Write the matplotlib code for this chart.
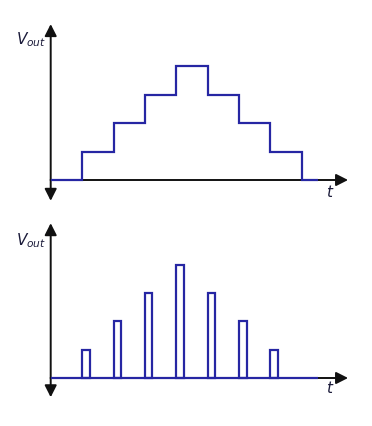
import numpy as np
import matplotlib
matplotlib.use("Agg")
from matplotlib import pyplot as plt

# staircase output (top) and sampled pulses (bottom)
stair_edges = [0, 1, 2, 3, 4, 5, 6, 7, 8, 8.5]
stair_levels = [0, 1, 2, 3, 4, 3, 2, 1, 0]

pulse_times = [1, 2, 3, 4, 5, 6, 7]
pulse_levels = [1, 2, 3, 4, 3, 2, 1]
pulse_width = 0.24

blue = "#2626a3"
axis_col = "#111111"

W, H = 372, 427
fig = plt.figure(figsize=(W / 100, H / 100), dpi=100)

# pixel layout -> data limits, so that t=1 is ~31.4px and one level ~28.4px
x0_px, tx = 50.7, 31.4
xlim = (-x0_px / tx, (W - x0_px) / tx)


def make_ax(top_px, bot_px, base_px, ty):
    ax = fig.add_axes([0, 1 - bot_px / H, 1, (bot_px - top_px) / H])
    ax.set_xlim(*xlim)
    ax.set_ylim((base_px - bot_px) / ty, (base_px - top_px) / ty)
    ax.axis("off")
    return ax


def draw_axes(ax, ytop, ybot, xend, lbl_y, t_y):
    arrow = dict(arrowstyle="-|>,head_length=0.75,head_width=0.38",
                 color=axis_col, lw=1.4, mutation_scale=9.5, shrinkA=0, shrinkB=0)
    ax.annotate("", xy=(0, ytop), xytext=(0, 0), arrowprops=arrow)
    ax.annotate("", xy=(0, ybot), xytext=(0, 0), arrowprops=arrow)
    ax.annotate("", xy=(xend, 0), xytext=(0, 0), arrowprops=arrow)
    ax.text(-0.62, lbl_y, r"$V_{out}$", fontsize=11, color="#1b1b3a",
            ha="center", va="center")
    ax.text(8.9, t_y, r"$t$", fontsize=11, color="#1b1b3a",
            ha="center", va="center")


plt.rcParams["mathtext.fontset"] = "dejavusans"

# top chart
ax1 = make_ax(0, 213, 181, 28.5)
draw_axes(ax1, 5.47, -0.73, 9.47, 4.95, -0.37)
ax1.stairs(stair_levels, stair_edges, baseline=None, color=blue, lw=1.6, zorder=3)

# bottom chart
ax2 = make_ax(213, 427, 379, 28.3)
draw_axes(ax2, 5.47, -0.68, 9.47, 4.88, -0.32)
ax2.plot([0, 8.5], [0, 0], color=blue, lw=1.6, zorder=3, solid_capstyle="butt")
ax2.bar(pulse_times, pulse_levels, width=pulse_width, align="edge",
        fill=False, edgecolor=blue, lw=1.6, zorder=3)

fig.savefig("out.png", dpi=100, facecolor="white")
